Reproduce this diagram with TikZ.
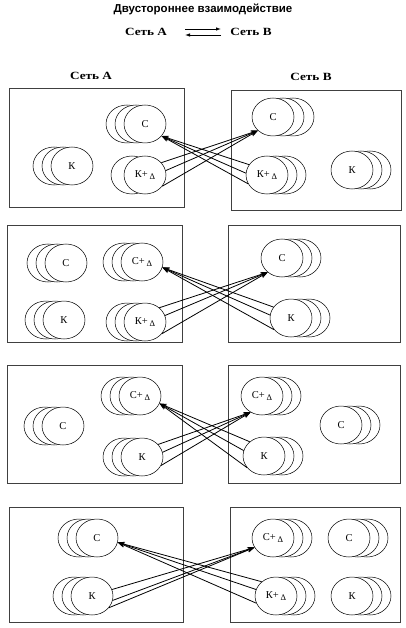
\documentclass[tikz,border=0pt]{standalone}
\usepackage{fontspec}
\setmainfont{Liberation Serif}
\newfontfamily\titlefont{Liberation Sans}
\usetikzlibrary{shapes.geometric,arrows.meta}
\tikzset{
  circ/.style={ellipse, draw, fill=white, line width=0.5pt, minimum width=42pt, minimum height=38pt, inner sep=0pt, font=\fontsize{10.5}{12}\selectfont},
  backc/.style={draw, fill=white, line width=0.5pt},
  box/.style={draw=black!75, line width=0.8pt},
  conn/.style={-{Stealth[length=7pt,width=5pt]}, line width=0.8pt},
  hdr/.style={-{Latex[length=5pt,width=3.5pt]}, line width=0.8pt},
  ttl/.style={font=\titlefont\bfseries\fontsize{11.5}{13}\selectfont, inner sep=0pt},
  lab/.style={font=\bfseries\fontsize{11}{13}\selectfont, inner sep=0pt, xscale=1.2}
}
\newcommand\dlt{\,\raisebox{-2.5pt}{\fontsize{8.5}{9}\selectfont Δ}}
% name, x, y, back offsets, label
\newcommand\stk[5]{%
  \foreach \o in {#4}{\path[backc] ({#2+(\o)},#3) ellipse [x radius=21pt, y radius=19pt];}
  \node[circ] (#1) at (#2,#3) {#5};
}
\begin{document}
\begin{tikzpicture}[x=1pt,y=-1pt]
\useasboundingbox (0,0) rectangle (406,628);
% headers
\node[ttl] (t) at (203,9) {Двустороннее взаимодействие};
\node[lab] (ha) at (146,32) {Сеть А};
\node[lab] (hb) at (251,32) {Сеть В};
\coordinate (p1) at (185,29); \coordinate (p2) at (221,29);
\coordinate (q1) at (221,35); \coordinate (q2) at (185,35);
\draw[hdr] (p1) -- (p2);
\draw[hdr] (q1) -- (q2);
\node[lab] (la) at (91,76) {Сеть А};
\node[lab] (lb) at (311,77) {Сеть В};
% boxes
\draw[box] (9,88) rectangle (184,207);
\draw[box] (231,90) rectangle (401,210);
\draw[box] (7,225) rectangle (182,342);
\draw[box] (228,225) rectangle (400,342);
\draw[box] (7,365) rectangle (182,483);
\draw[box] (228,365) rectangle (400,483);
\draw[box] (9,507) rectangle (183,622);
\draw[box] (230,507) rectangle (400,622);
% panel 1
\stk{a1}{145}{124}{-18,-9}{С}
\stk{a2}{72}{166}{-18,-9}{К}
\stk{a3}{145}{175}{-13}{К+\dlt}
\stk{b1}{273}{117}{20,10}{С}
\stk{b2}{267}{175}{18,9}{К+\dlt}
\stk{b3}{352}{170}{18,9}{К}
\draw[conn] (a3.37) -- (b1.222);
\draw[conn] (a3.12) -- (b1.222);
\draw[conn] (a3.-33) -- (b1.222);
\draw[conn] (b2.150) -- (a1.-36);
\draw[conn] (b2.175) -- (a1.-36);
\draw[conn] (b2.205) -- (a1.-36);
% panel 2
\stk{c1}{66}{263}{-18,-9}{С}
\stk{c2}{142}{262}{-18,-9}{С+\dlt}
\stk{c3}{64}{320}{-18,-9}{К}
\stk{c4}{145}{322}{-18,-9}{К+\dlt}
\stk{d1}{282}{258}{18,9}{С}
\stk{d2}{291}{318}{18,9}{К}
\draw[conn] (c4.45) -- (d1.225);
\draw[conn] (c4.18) -- (d1.225);
\draw[conn] (c4.-35) -- (d1.225);
\draw[conn] (d2.148) -- (c2.-15);
\draw[conn] (d2.172) -- (c2.-15);
\draw[conn] (d2.215) -- (c2.-15);
% panel 3
\stk{e1}{140}{396}{-18,-9}{С+\dlt}
\stk{e2}{63}{426}{-18,-9}{С}
\stk{e3}{142}{457}{-18,-9}{К}
\stk{f1}{262}{396}{18,9}{С+\dlt}
\stk{f2}{341}{425}{18,9}{С}
\stk{f3}{264}{456}{18,9}{К}
\draw[conn] (e3.38) -- (f1.235);
\draw[conn] (e3.13) -- (f1.235);
\draw[conn] (e3.-24) -- (f1.235);
\draw[conn] (f3.135) -- (e1.-21);
\draw[conn] (f3.165) -- (e1.-21);
\draw[conn] (f3.215) -- (e1.-21);
% panel 4
\stk{g1}{97}{538}{-18,-9}{С}
\stk{g2}{92}{596}{-18,-9}{К}
\stk{h1}{273}{538}{18,9}{С+\dlt}
\stk{h2}{349}{538}{18,9}{С}
\stk{h3}{276}{596}{18,9}{К+\dlt}
\stk{h4}{352}{596}{18,9}{К}
\draw[conn] (g2.18) -- (h1.207);
\draw[conn] (g2.-12) -- (h1.207);
\draw[conn] (g2.-35) -- (h1.207);
\draw[conn] (h3.135) -- (g1.-12);
\draw[conn] (h3.162) -- (g1.-12);
\draw[conn] (h3.200) -- (g1.-12);
\end{tikzpicture}
\end{document}
